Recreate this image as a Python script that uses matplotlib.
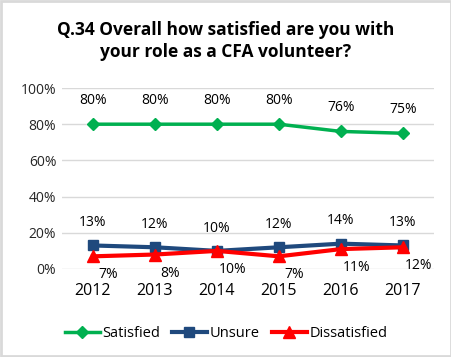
import numpy as np
import matplotlib.pyplot as plt
from matplotlib.patches import Rectangle

years = ["2012", "2013", "2014", "2015", "2016", "2017"]
satisfied = [80, 80, 80, 80, 76, 75]
unsure = [13, 12, 10, 12, 14, 13]
dissatisfied = [7, 8, 10, 7, 11, 12]

plt.rcParams['font.family'] = ['Open Sans', 'DejaVu Sans']

fig = plt.figure(figsize=(4.52, 3.57), dpi=100)
ax = fig.add_axes([0.137, 0.2465, 0.823, 0.507])
x = np.arange(len(years))

ax.plot(x, np.array(satisfied) / 100, color="#00B050", lw=2.5, marker="D", ms=6, label="Satisfied")
ax.plot(x, np.array(unsure) / 100, color="#1F497D", lw=3, marker="s", ms=7, label="Unsure")
ax.plot(x, np.array(dissatisfied) / 100, color="#FF0000", lw=3, marker="^", ms=8, label="Dissatisfied")

for i in x:
    ax.annotate(f"{satisfied[i]}%", (i, satisfied[i] / 100), xytext=(0, 12), textcoords="offset points",
                ha="center", va="bottom", fontsize=10)
    ax.annotate(f"{unsure[i]}%", (i, unsure[i] / 100), xytext=(0, 11), textcoords="offset points",
                ha="center", va="bottom", fontsize=10)
    ax.annotate(f"{dissatisfied[i]}%", (i, dissatisfied[i] / 100), xytext=(11, -8), textcoords="offset points",
                ha="center", va="top", fontsize=10)

ax.set_xlim(-0.5, 5.5)
ax.set_ylim(0, 1)
ax.set_yticks(np.arange(0, 1.01, 0.2))
ax.set_yticklabels([f"{v}%" for v in range(0, 101, 20)], fontsize=10, color="#262626")
ax.set_xticks(x)
ax.set_xticklabels(years, fontsize=11.5)
ax.tick_params(axis="y", length=0, pad=4)
ax.tick_params(axis="x", length=0, pad=10)
ax.grid(axis="y", color="#D9D9D9", lw=1)
ax.set_axisbelow(True)
for s in ax.spines.values():
    s.set_visible(False)

fig.text(0.5, 0.94, "Q.34 Overall how satisfied are you with\nyour role as a CFA volunteer?",
         ha="center", va="top", fontsize=12.5, fontweight="bold", linespacing=1.25)

fig.legend(loc="center", bbox_to_anchor=(0.5, 0.065), ncol=3, frameon=False, fontsize=10.5,
           handlelength=2.4, handletextpad=0.2, columnspacing=0.8)

fig.patches.append(Rectangle((0.002, 0.003), 0.995, 0.994, transform=fig.transFigure,
                             fill=False, edgecolor="#D9D9D9", lw=2))

fig.savefig("out.png", dpi=100)
